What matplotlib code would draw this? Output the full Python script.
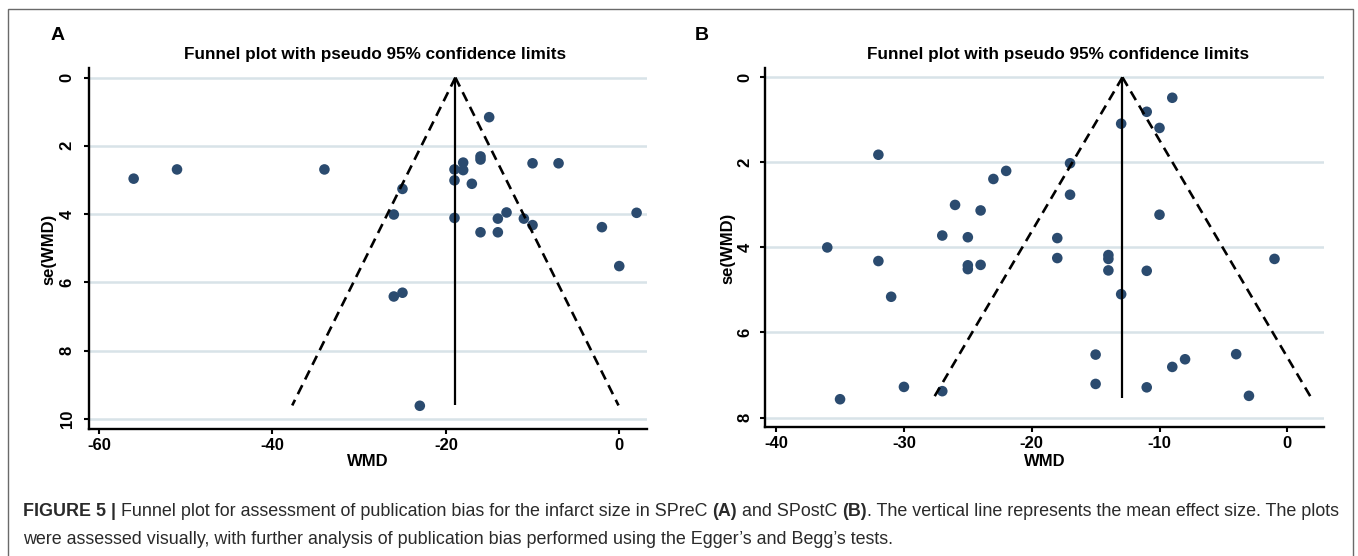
import matplotlib
matplotlib.use('Agg')
import matplotlib.pyplot as plt
from matplotlib.patches import Rectangle

# ---------------- data ----------------
# Panel A (SPreC)
a_wmd = [-56, -51, -34, -15, -25, -26, -19, -18, -18, -19, -17, -16, -16, -10,
         -7, -19, -14, -13, -11, -10, -16, -14, -2, 2, 0, -26, -25, -23]
a_se = [2.96, 2.69, 2.69, 1.16, 3.26, 4.01, 2.69, 2.49, 2.71, 3.01, 3.11, 2.31,
        2.40, 2.51, 2.51, 4.11, 4.13, 3.95, 4.13, 4.32, 4.53, 4.53, 4.38, 3.96,
        5.52, 6.41, 6.30, 9.61]
a_mean = -18.9
a_semax = 9.6
a_xticks = [-60, -40, -20, 0]
a_yticks = [0, 2, 4, 6, 8, 10]

# Panel B (SPostC)
b_wmd = [-9, -11, -13, -10, -32, -17, -22, -23, -17, -26, -24, -10, -27, -25,
         -18, -36, -32, -25, -25, -24, -18, -14, -14, -14, -11, -1, -31, -13,
         -15, -4, -8, -9, -15, -30, -11, -27, -35, -3]
b_se = [0.48, 0.81, 1.09, 1.19, 1.82, 2.02, 2.20, 2.39, 2.76, 3.00, 3.13, 3.23,
        3.72, 3.76, 3.78, 4.00, 4.32, 4.42, 4.51, 4.41, 4.25, 4.18, 4.27, 4.54,
        4.55, 4.27, 5.16, 5.10, 6.52, 6.51, 6.63, 6.81, 7.21, 7.28, 7.29, 7.38,
        7.57, 7.49]
b_mean = -12.9
b_semax = 7.53
b_xticks = [-40, -30, -20, -10, 0]
b_yticks = [0, 2, 4, 6, 8]

title_text = "Funnel plot with pseudo 95% confidence limits"
xlabel_text = "WMD"
ylabel_text = "se(WMD)"

caption1 = [("FIGURE 5 | ", "bold"),
            ("Funnel plot for assessment of publication bias for the infarct size in SPreC ", "normal"),
            ("(A)", "bold"), (" and SPostC ", "normal"), ("(B)", "bold"),
            (". The vertical line represents the mean effect size. The plots", "normal")]
caption2 = [("were assessed visually, with further analysis of publication bias performed "
             "using the Egger\u2019s and Begg\u2019s tests.", "normal")]

# ---------------- style ----------------
W, H = 1358, 556
plt.rcParams['font.family'] = ['Liberation Sans', 'DejaVu Sans']
fig = plt.figure(figsize=(W / 100, H / 100), dpi=100)
renderer = fig.canvas.get_renderer()

NAVY = '#2b4b6f'
GRID = '#d8e3e8'
TXT = '#000000'


def fx(px):
    return px / W


def fy(py):
    return 1 - py / H


def text_width(s, **kw):
    t = fig.text(0, 0, s + '|', **kw)
    w1 = t.get_window_extent(renderer=renderer).width
    t.remove()
    t = fig.text(0, 0, '|', **kw)
    w2 = t.get_window_extent(renderer=renderer).width
    t.remove()
    return w1 - w2


def fit_size(s, target, base=12, **kw):
    w = text_width(s, fontsize=base, **kw)
    return base * target / w


def panel(rect, xlim, ylim, xticks, yticks, wmd, se, mean, semax,
          letter, letter_xy, title_cx, ylab_x, ytick_x, xlab_cx):
    l, t, r, b = rect
    ax = fig.add_axes([fx(l), fy(b), fx(r - l), (b - t) / H])
    ax.set_xlim(*xlim)
    ax.set_ylim(*ylim)
    ax.set_xticks(xticks)
    ax.set_yticks(yticks)
    for s in ('top', 'right'):
        ax.spines[s].set_visible(False)
    for s in ('left', 'bottom'):
        ax.spines[s].set_linewidth(1.7)
        ax.spines[s].set_color('black')
    ax.tick_params(axis='both', length=3.8, width=1.5, color='black',
                   labelsize=12, direction='out')
    ax.tick_params(axis='x', pad=2.5)
    ax.yaxis.set_tick_params(pad=(l - ytick_x) * 0.72 - 3.8)
    ax.set_yticklabels([str(v) for v in yticks], rotation=90, va='center',
                       ha='center', fontweight='bold', fontsize=12)
    ax.set_xticklabels([str(v) for v in xticks], fontweight='bold', fontsize=12)
    ax.grid(axis='y', color=GRID, linewidth=1.8)
    ax.set_axisbelow(True)

    ax.scatter(wmd, se, s=58, color=NAVY, edgecolors='none', zorder=3)
    ax.plot([mean, mean], [0, semax], color='black', lw=1.6, zorder=4,
            solid_capstyle='butt')
    ax.plot([mean, mean - 1.96 * semax], [0, semax], color='black', lw=1.9,
            dashes=(3.8, 2.4), zorder=4)
    ax.plot([mean, mean + 1.96 * semax], [0, semax], color='black', lw=1.9,
            dashes=(3.8, 2.4), zorder=4)

    fig.text(fx(letter_xy[0]), fy(letter_xy[1]), letter, fontsize=14,
             fontweight='bold', ha='center', va='center', color=TXT)
    tsize = fit_size(title_text, 379, fontweight='bold')
    fig.text(fx(title_cx), fy(54), title_text, fontsize=tsize,
             fontweight='bold', ha='center', va='center', color=TXT)
    fig.text(fx(ylab_x), fy((t + b) / 2 + 1), ylabel_text, fontsize=12,
             fontweight='bold', rotation=90, ha='center', va='center', color=TXT)
    fig.text(fx(xlab_cx), fy(462), xlabel_text, fontsize=12,
             fontweight='bold', ha='center', va='center', color=TXT)
    return ax


panel((89, 68, 647, 429), (-61.15, 3.2), (10.29, -0.28), a_xticks, a_yticks,
      a_wmd, a_se, a_mean, a_semax, 'A', (58, 36), 375.5, 48.6, 67.2, 368)
panel((765.3, 68, 1323.7, 427.3), (-40.85, 2.85), (8.23, -0.22), b_xticks,
      b_yticks, b_wmd, b_se, b_mean, b_semax, 'B', (702, 36), 1058, 727.6,
      745, 1045)

# caption


def rich_line(x0, ybase, segs, size, color='#2a2a2a'):
    x = x0
    for s, wt in segs:
        fig.text(fx(x), fy(ybase), s, fontsize=size, fontweight=wt,
                 ha='left', va='baseline', color=color)
        x += text_width(s, fontsize=size, fontweight=wt)


def segs_width(segs, size):
    return sum(text_width(s, fontsize=size, fontweight=wt) for s, wt in segs)


cap_size = 12 * 1317 / segs_width(caption1, 12)
rich_line(22.7, 516.5, caption1, cap_size)
rich_line(22.7, 544, caption2, cap_size)

# outer frame
fig.patches.append(Rectangle((fx(8), fy(575)), fx(1353 - 8), (575 - 9) / H,
                             transform=fig.transFigure, fill=False,
                             edgecolor='#6a6a6a', linewidth=1.0))

fig.savefig('out.png', dpi=100)
